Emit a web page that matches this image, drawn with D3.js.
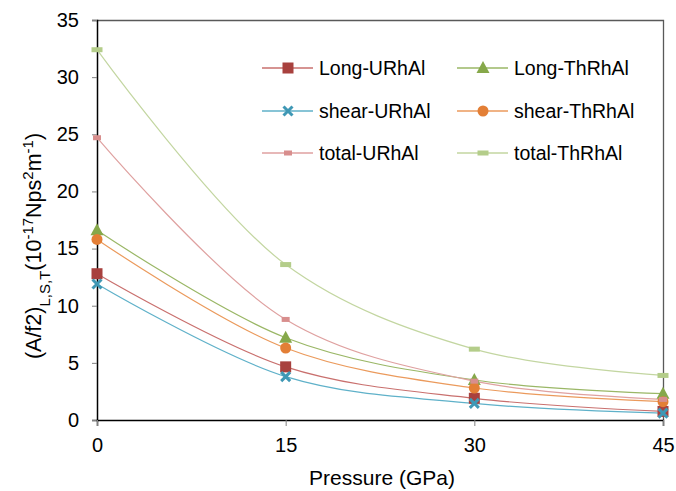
<!DOCTYPE html>
<html>
<head>
<meta charset="utf-8">
<script src="https://cdn.jsdelivr.net/npm/d3@7"></script>
<style>
  body { margin: 0; background: #fff; }
  text { font-family: "Liberation Sans", Arial, sans-serif; fill: #000; }
</style>
</head>
<body>
<svg id="chart"></svg>
<script>
// Data
const pressures = [0, 15, 30, 45];
const longU   = [12.8, 4.65, 1.9, 0.75];
const longTh  = [16.6, 7.2, 3.5, 2.3];
const shearU  = [11.9, 3.8, 1.45, 0.6];
const shearTh = [15.8, 6.3, 2.8, 1.6];
const totalU  = [24.7, 8.8, 3.4, 1.8];
const totalTh = [32.4, 13.6, 6.2, 3.9];
const yTicks = [0, 5, 10, 15, 20, 25, 30, 35];

const series = [
  { name: "Long-URhAl",   values: longU,   line: "#c9706e", mark: "#a8413e", shape: "square" },
  { name: "Long-ThRhAl",  values: longTh,  line: "#9ab766", mark: "#86a84a", shape: "triangle" },
  { name: "shear-URhAl",  values: shearU,  line: "#5fb1c9", mark: "#3f98b5", shape: "cross" },
  { name: "shear-ThRhAl", values: shearTh, line: "#eb9a5c", mark: "#e37f36", shape: "circle" },
  { name: "total-URhAl",  values: totalU,  line: "#dfa1a0", mark: "#d88e8d", shape: "dashS" },
  { name: "total-ThRhAl", values: totalTh, line: "#c3d6a1", mark: "#b4cd8a", shape: "dashL" }
];

const W = 676, H = 491;
const margin = { top: 20, right: 13, bottom: 71, left: 97 };
const width = W - margin.left - margin.right;
const height = H - margin.top - margin.bottom;

const root = d3.select("#chart").attr("width", W).attr("height", H);
const svg = root.append("g").attr("transform", `translate(${margin.left},${margin.top})`);

const x = d3.scaleLinear().domain([0, 45]).range([0, width]);
const y = d3.scaleLinear().domain([0, 35]).range([height, 0]);

// top & right frame
svg.append("path")
  .attr("d", `M0,0.5H${width + 0.5}V${height}`)
  .attr("fill", "none").attr("stroke", "#595959").attr("stroke-width", 1.3);

// axes
const yAxis = svg.append("g")
  .call(d3.axisLeft(y).tickValues(yTicks).tickSize(5).tickPadding(13));
const xAxis = svg.append("g")
  .attr("transform", `translate(0,${height})`)
  .call(d3.axisBottom(x).tickValues(pressures).tickSize(6).tickPadding(12));
[xAxis, yAxis].forEach(a => {
  a.select(".domain").attr("stroke", "#000").attr("stroke-width", 1.5);
  a.selectAll(".tick line").attr("stroke", "#808080");
  a.selectAll(".tick text").style("font-size", "20px").attr("fill", "#000");
});

// lines
const line = d3.line()
  .x((d, i) => x(pressures[i]))
  .y(d => y(d))
  .curve(d3.curveCatmullRom.alpha(0.5));

series.forEach(s => {
  svg.append("path")
    .datum(s.values)
    .attr("fill", "none")
    .attr("stroke", s.line)
    .attr("stroke-width", 1.2)
    .attr("d", line);
});

function marker(g, shape, color) {
  if (shape === "square") {
    g.append("rect").attr("x", -5.5).attr("y", -5.5).attr("width", 11).attr("height", 11).attr("fill", color);
  } else if (shape === "triangle") {
    g.append("path").attr("d", "M0,-7L6.5,5L-6.5,5Z").attr("fill", color);
  } else if (shape === "circle") {
    g.append("circle").attr("r", 5.5).attr("fill", color);
  } else if (shape === "cross") {
    g.append("path").attr("d", "M-4.5,-4.5L4.5,4.5M4.5,-4.5L-4.5,4.5")
      .attr("stroke", color).attr("stroke-width", 3).attr("fill", "none");
  } else if (shape === "dashS") {
    g.append("rect").attr("x", -4).attr("y", -2.5).attr("width", 8).attr("height", 5).attr("fill", color);
  } else if (shape === "dashL") {
    g.append("rect").attr("x", -5.5).attr("y", -2.5).attr("width", 11).attr("height", 5).attr("fill", color);
  }
}

// markers
series.forEach(s => {
  s.values.forEach((v, i) => {
    const g = svg.append("g").attr("transform", `translate(${x(pressures[i])},${y(v)})`);
    marker(g, s.shape, s.mark);
  });
});

// legend
const legendPos = [[262, 68], [457, 68], [262, 111], [457, 111], [262, 153], [457, 153]];
const legendOrder = ["Long-URhAl", "Long-ThRhAl", "shear-URhAl", "shear-ThRhAl", "total-URhAl", "total-ThRhAl"];
legendOrder.forEach((name, k) => {
  const s = series.find(d => d.name === name);
  const [lx, ly] = legendPos[k];
  const g = root.append("g").attr("transform", `translate(${lx},${ly})`);
  g.append("line").attr("x1", 0).attr("x2", 51).attr("y1", 0).attr("y2", 0)
    .attr("stroke", s.line).attr("stroke-width", 1.5);
  marker(g.append("g").attr("transform", "translate(26,0)"), s.shape, s.mark);
  g.append("text").attr("x", 57).attr("y", 6.5).style("font-size", "19.5px").text(name);
});

// axis titles
root.append("text")
  .attr("x", 382).attr("y", 485)
  .attr("text-anchor", "middle").style("font-size", "21px")
  .text("Pressure (GPa)");

const yt = root.append("text")
  .attr("transform", `translate(41,246) rotate(-90)`)
  .attr("text-anchor", "middle").style("font-size", "21.5px");
yt.append("tspan").text("(A/f2)");
yt.append("tspan").attr("baseline-shift", "sub").style("font-size", "15px").text("L,S,T");
yt.append("tspan").text("(10");
yt.append("tspan").attr("baseline-shift", "super").style("font-size", "15px").text("-17");
yt.append("tspan").text("Nps");
yt.append("tspan").attr("baseline-shift", "super").style("font-size", "15px").text("2");
yt.append("tspan").text("m");
yt.append("tspan").attr("baseline-shift", "super").style("font-size", "15px").text("-1");
yt.append("tspan").text(")");
</script>
</body>
</html>
